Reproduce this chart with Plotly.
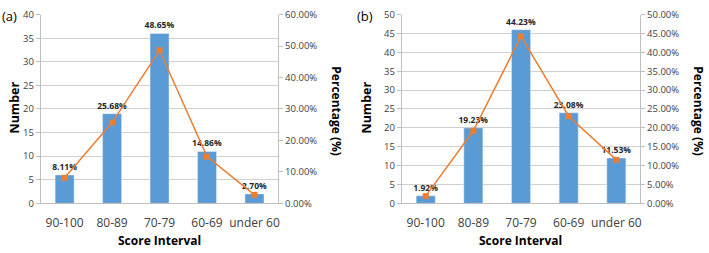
import plotly.graph_objects as go

categories = ["90-100", "80-89", "70-79", "60-69", "under 60"]
counts_a = [6, 19, 36, 11, 2]
pct_a = [8.11, 25.68, 48.65, 14.86, 2.70]
counts_b = [2, 20, 46, 24, 12]
pct_b = [1.92, 19.23, 44.23, 23.08, 11.53]

W, H = 709, 253
BAR = "#5B9BD5"
LINE = "#ED7D31"
GRID = "#D0D0D0"
AX = "#BFBFBF"
TXT = "#404040"
FONT = "Open Sans"

def px(x):
    return x / W

def py(y):
    return 1 - y / H

fig = go.Figure()

def add_panel(counts, pct, xa, ya, ya2):
    fig.add_trace(go.Bar(
        x=categories, y=counts, marker_color=BAR, width=0.4,
        text=[f"<b>{p:.2f}%</b>" for p in pct], textposition="outside",
        constraintext="none",
        textfont=dict(size=8.5, color="#262626", family=FONT),
        cliponaxis=False, xaxis=xa, yaxis=ya, showlegend=False,
    ))
    fig.add_trace(go.Scatter(
        x=categories, y=[p / 100 for p in pct], mode="lines+markers",
        line=dict(color=LINE, width=1.5),
        marker=dict(symbol="square", size=6, color=LINE),
        xaxis=xa, yaxis=ya2, showlegend=False, cliponaxis=False,
    ))

add_panel(counts_a, pct_a, "x", "y", "y2")
add_panel(counts_b, pct_b, "x2", "y3", "y4")

ydom = [py(207), py(8)]
common_y = dict(
    showline=True, linecolor=AX, linewidth=1, ticks="outside", ticklen=4,
    tickcolor=AX, tickfont=dict(size=9.5, color=TXT, family=FONT), zeroline=False,
)
common_x = dict(
    showline=True, linecolor=AX, linewidth=1, ticks="outside", ticklen=8, tickcolor="rgba(0,0,0,0)",
    tickfont=dict(size=12, color=TXT, family=FONT), showgrid=False,
)

fig.update_layout(
    width=W, height=H, margin=dict(l=0, r=0, t=0, b=0),
    plot_bgcolor="white", paper_bgcolor="white", bargap=0.6,
    xaxis=dict(domain=[px(41), px(279)], anchor="y", **common_x),
    yaxis=dict(domain=ydom, range=[0, 40], dtick=5, gridcolor=GRID, showgrid=True, **common_y),
    yaxis2=dict(overlaying="y", side="right", anchor="x", range=[0, 0.6], dtick=0.1,
                tickformat=".2%", showgrid=False, **common_y),
    xaxis2=dict(domain=[px(403), px(642)], anchor="y3", **common_x),
    yaxis3=dict(domain=ydom, anchor="x2", range=[0, 50], dtick=5, gridcolor=GRID, showgrid=True, **common_y),
    yaxis4=dict(overlaying="y3", side="right", anchor="x2", range=[0, 0.5], dtick=0.05,
                tickformat=".2%", showgrid=False, **common_y),
)

def ann(text, x, y, size=12, angle=0, bold=True, color="black", xanchor="center"):
    fig.add_annotation(
        text=f"<b>{text}</b>" if bold else text, x=px(x), y=py(y), xref="paper", yref="paper",
        showarrow=False, textangle=angle, font=dict(size=size, color=color, family=FONT),
        xanchor=xanchor, yanchor="middle",
    )

ann("(a)", 10, 9, size=13, bold=False)
ann("(b)", 366, 9, size=13, bold=False)
ann("Number", 15, 106, size=12.5, angle=-90)
ann("Number", 368, 106, size=12.5, angle=-90)
ann("Percentage (%)", 338, 110, size=12, angle=90)
ann("Percentage (%)", 701, 110, size=12, angle=90)
ann("Score Interval", 160, 246, size=12)
ann("Score Interval", 522, 246, size=12)

fig.write_html(
    "out.html",
    config={"displayModeBar": False},
    post_script="document.body.style.margin='0';document.body.style.overflow='hidden';",
)
